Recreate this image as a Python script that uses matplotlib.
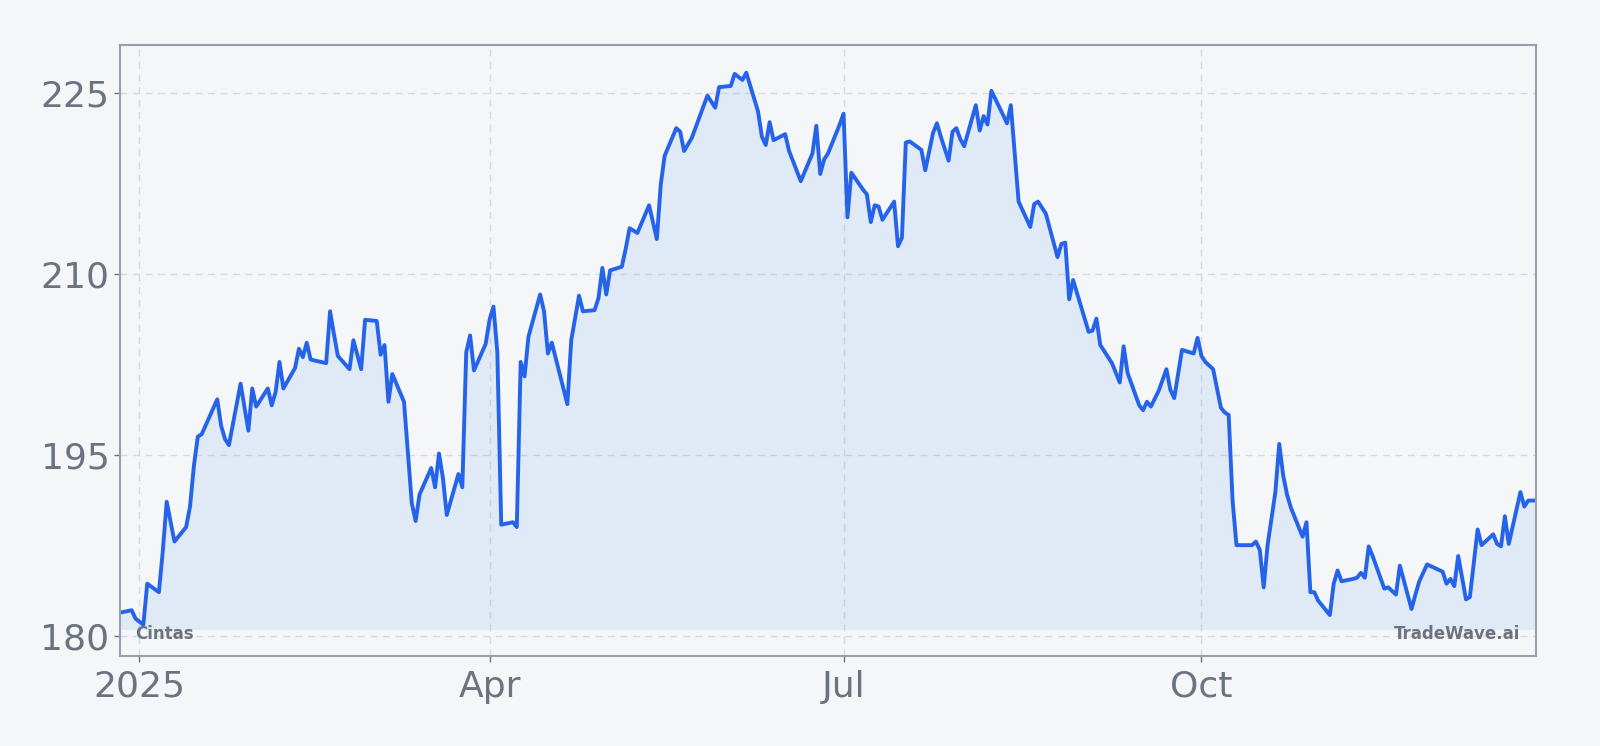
import matplotlib
matplotlib.use("Agg")
import matplotlib.pyplot as plt
import pandas as pd

# Cintas close, 2025
days = [-5, -2, -1, 1, 2, 5, 6, 7, 9, 12, 13, 14, 15, 16, 20, 21, 22, 23, 26, 28,
        29, 30, 33, 34, 35, 36, 37, 40, 41, 42, 43, 44, 48, 49, 50, 51, 54, 55, 57, 58,
        61, 62, 63, 64, 65, 68, 70, 71, 72, 75, 76, 77, 78, 79, 82, 83, 84, 85, 86, 89,
        90, 91, 92, 93, 96, 97, 98, 99, 100, 103, 104, 105, 106, 110, 111, 113, 114, 117, 118, 119,
        120, 121, 124, 125, 126, 128, 131, 133, 134, 135, 138, 139, 140, 142, 146, 148, 149, 152, 153, 155,
        156, 159, 160, 161, 162, 163, 166, 167, 170, 173, 174, 175, 176, 177, 180, 181, 182, 183, 186, 187,
        188, 189, 190, 191, 194, 195, 196, 197, 198, 201, 202, 204, 205, 206, 208, 209, 210, 211, 212, 215,
        216, 217, 218, 219, 222, 223, 224, 225, 226, 229, 230, 231, 233, 236, 237, 238, 239, 240, 244, 245,
        246, 247, 250, 252, 253, 254, 257, 258, 259, 260, 262, 264, 265, 266, 268, 271, 272, 273, 274, 276,
        278, 279, 280, 281, 282, 286, 287, 288, 289, 290, 292, 293, 294, 295, 296, 299, 300, 301, 302, 303,
        306, 307, 308, 309, 312, 313, 314, 315, 316, 317, 320, 321, 323, 324, 327, 328, 329, 331, 335, 336,
        337, 338, 339, 341, 342, 344, 345, 348, 349, 350, 351, 352, 355, 356, 357, 359]
prices = [181.9, 182.1, 181.4, 180.9, 184.3, 183.6, 187.0, 191.1, 187.8, 189.0, 190.7, 194.1, 196.5, 196.7, 199.6, 197.4, 196.3, 195.8, 200.9, 197.0,
          200.5, 199.0, 200.5, 199.1, 200.2, 202.7, 200.5, 202.2, 203.8, 203.1, 204.3, 202.9, 202.6, 206.9, 205.0, 203.2, 202.1, 204.5, 202.1, 206.2,
          206.1, 203.3, 204.1, 199.4, 201.7, 199.4, 191.0, 189.5, 191.7, 193.9, 192.3, 195.1, 193.1, 190.0, 193.4, 192.3, 203.5, 204.9, 202.0, 204.2,
          206.2, 207.3, 203.5, 189.2, 189.4, 189.0, 202.7, 201.5, 204.8, 208.3, 206.9, 203.4, 204.3, 199.2, 204.5, 208.2, 206.9, 207.0, 208.0, 210.5,
          208.3, 210.3, 210.6, 212.1, 213.8, 213.4, 215.7, 212.9, 217.4, 219.8, 222.1, 221.8, 220.2, 221.3, 224.8, 223.8, 225.5, 225.6, 226.6, 226.1,
          226.7, 223.5, 221.4, 220.7, 222.6, 221.1, 221.6, 220.2, 217.7, 220.0, 222.3, 218.3, 219.5, 220.0, 222.4, 223.3, 214.7, 218.4, 217.0, 216.6,
          214.3, 215.7, 215.6, 214.5, 216.0, 212.3, 213.0, 220.9, 221.0, 220.3, 218.6, 221.7, 222.5, 221.4, 219.4, 221.8, 222.1, 221.2, 220.6, 224.0,
          221.9, 223.1, 222.4, 225.2, 223.2, 222.5, 224.0, 220.0, 216.0, 213.9, 215.8, 216.0, 215.0, 211.4, 212.5, 212.6, 207.9, 209.5, 205.2, 205.3,
          206.3, 204.1, 202.6, 201.0, 204.0, 201.8, 199.1, 198.7, 199.4, 199.0, 200.3, 202.1, 200.4, 199.7, 203.7, 203.4, 204.7, 203.2, 202.7, 202.1,
          198.9, 198.5, 198.3, 191.2, 187.5, 187.5, 187.8, 187.1, 184.0, 187.5, 191.9, 195.9, 193.3, 191.7, 190.6, 188.2, 189.4, 183.6, 183.6, 182.9,
          181.7, 184.3, 185.4, 184.5, 184.7, 184.8, 185.2, 184.8, 187.4, 186.6, 183.9, 184.0, 183.4, 185.8, 182.2, 183.4, 184.5, 185.9, 185.3, 184.3,
          184.7, 184.1, 186.6, 183.0, 183.2, 188.8, 187.5, 188.4, 187.6, 187.4, 189.9, 187.6, 191.9, 190.7, 191.2, 191.2]

tick_dates = ["2025-01-01", "2025-04-01", "2025-07-01", "2025-10-01"]
tick_labels = ["2025", "Apr", "Jul", "Oct"]
y_ticks = [180, 195, 210, 225]

bg = "#f5f6f8"
line_color = "#2563eb"
fill_color = "#4a9be8"
text_gray = "#6b7280"

dates = pd.Timestamp("2025-01-01") + pd.to_timedelta(days, unit="D")

fig, ax = plt.subplots(figsize=(16, 7.46), dpi=100)
fig.patch.set_facecolor(bg)
ax.set_facecolor(bg)
fig.subplots_adjust(left=0.075, right=0.96, top=0.9397, bottom=0.1206)

ax.fill_between(dates, prices, 180.5, color=fill_color, alpha=0.12, linewidth=0)
ax.plot(dates, prices, color=line_color, linewidth=2.8)

ax.set_xlim(dates[0], dates[-1])
ax.set_ylim(178.3, 229.0)
ax.set_xticks(pd.to_datetime(tick_dates))
ax.set_xticklabels(tick_labels)
ax.set_yticks(y_ticks)

ax.grid(True, linestyle=(0, (5, 4)), color="#d5d9e0", linewidth=1)
ax.set_axisbelow(True)
for s in ax.spines.values():
    s.set_color("#9a9dab")
    s.set_linewidth(1.5)
ax.tick_params(axis="both", labelsize=26, colors=text_gray, length=4, width=1)
ax.tick_params(axis="x", pad=6)

ax.text(0.011, 0.036, "Cintas", transform=ax.transAxes, fontsize=12,
        fontweight="bold", color=text_gray, ha="left", va="center")
ax.text(0.989, 0.036, "TradeWave.ai", transform=ax.transAxes, fontsize=12,
        fontweight="bold", color=text_gray, ha="right", va="center")

fig.savefig("out.png", dpi=100, facecolor=bg)
